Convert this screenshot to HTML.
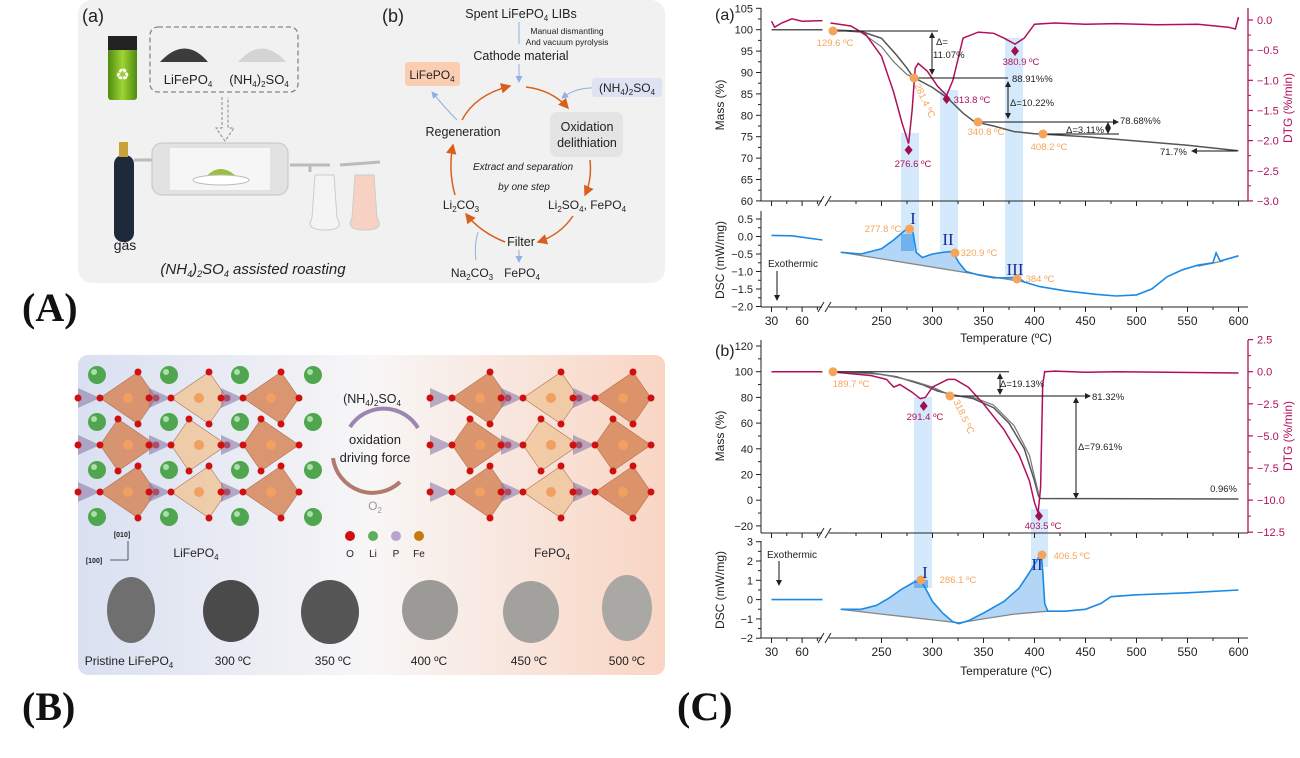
<!DOCTYPE html>
<html><head><meta charset="utf-8"><style>
html,body{margin:0;padding:0;background:#fff;}
svg{display:block;font-family:"Liberation Sans",sans-serif;}
.t{font-size:11px;fill:#222}
.s{font-size:9.5px}
</style></head><body>
<svg id="sv" width="1300" height="758" viewBox="0 0 1300 758" xmlns="http://www.w3.org/2000/svg">
<defs>
<linearGradient id="bg" x1="0" x2="1" y1="0" y2="0"><stop offset="0" stop-color="#d9e0f1"/><stop offset="0.5" stop-color="#f8f6f6"/><stop offset="1" stop-color="#f9d5c3"/></linearGradient>
<linearGradient id="bat" x1="0" x2="1"><stop offset="0" stop-color="#4f8a10"/><stop offset="0.5" stop-color="#9ed534"/><stop offset="1" stop-color="#4f8a10"/></linearGradient>
<marker id="ar" markerWidth="6" markerHeight="6" refX="5" refY="3" orient="auto"><path d="M0,0 L6,3 L0,6z" fill="#222"/></marker>
<marker id="ao" markerWidth="7" markerHeight="7" refX="6" refY="3.5" orient="auto"><path d="M0,0 L7,3.5 L0,7z" fill="#d9601c"/></marker>
<marker id="ab" markerWidth="7" markerHeight="7" refX="6" refY="3.5" orient="auto"><path d="M0,0 L7,3.5 L0,7z" fill="#8fb0e0"/></marker>
</defs>

<!-- Panel A -->
<rect x="78" y="0" width="587" height="283" rx="14" fill="#f1f1f1"/>
<text x="82" y="22" font-size="18" fill="#222">(a)</text>
<rect x="108" y="36" width="29" height="64" rx="3" fill="url(#bat)"/>
<rect x="108" y="36" width="29" height="14" fill="#222"/>
<text x="122.5" y="80" font-size="16" fill="#fff" text-anchor="middle">♻</text>
<rect x="150" y="27" width="148" height="65" rx="8" fill="none" stroke="#888" stroke-dasharray="5,3" stroke-width="1.3"/>
<path d="M160,62 Q185,35 208,62 Z" fill="#3c3c3c"/>
<path d="M238,62 Q262,35 286,62 Z" fill="#d4d4d4"/>
<text x="188" y="84" font-size="13" fill="#222" text-anchor="middle">LiFePO<tspan font-size="8" dy="3">4</tspan></text>
<text x="259" y="84" font-size="13" fill="#222" text-anchor="middle">(NH<tspan font-size="8" dy="3">4</tspan><tspan dy="-3">)</tspan><tspan font-size="8" dy="3">2</tspan><tspan dy="-3">SO</tspan><tspan font-size="8" dy="3">4</tspan></text>
<path d="M222,97 L222,128 L216,128 L225,141 L234,128 L228,128 L228,97" fill="none" stroke="#888" stroke-dasharray="3,2"/>
<rect x="114" y="155" width="20" height="87" rx="9" fill="#1e2a3c"/>
<rect x="119" y="142" width="9" height="15" fill="#c9a13a"/>
<text x="125" y="250" font-size="14" fill="#222" text-anchor="middle">gas</text>
<path d="M134,160 L152,160 M290,165 L330,165 M310,165 L310,172 M340,165 L380,162" stroke="#bbb" stroke-width="3" fill="none"/>
<rect x="152" y="143" width="136" height="52" rx="10" fill="#e2e2e2" stroke="#c4c4c4"/>
<rect x="170" y="148" width="100" height="42" fill="#f6f6f6"/>
<path d="M205,178 Q220,160 238,178 Z" fill="#99bf3c"/>
<ellipse cx="221" cy="180" rx="28" ry="5" fill="#fff" stroke="#bbb"/>
<path d="M315,175 L312,218 Q305,230 325,230 Q345,230 337,218 L334,175 Z" fill="#f4f4f4" stroke="#ccc"/>
<path d="M355,175 L352,218 Q345,230 365,230 Q385,230 377,218 L374,175 Z" fill="#f7d2c2" stroke="#ccc"/>
<text x="253" y="274" font-size="15" font-style="italic" fill="#222" text-anchor="middle">(NH<tspan font-size="9" dy="3">4</tspan><tspan dy="-3">)</tspan><tspan font-size="9" dy="3">2</tspan><tspan dy="-3">SO</tspan><tspan font-size="9" dy="3">4</tspan><tspan dy="-3"> assisted roasting</tspan></text>

<text x="382" y="22" font-size="18" fill="#222">(b)</text>
<text x="521" y="18" font-size="12.5" fill="#222" text-anchor="middle">Spent LiFePO<tspan font-size="8" dy="3">4</tspan><tspan dy="-3"> LIBs</tspan></text>
<text x="567" y="34" font-size="8.5" fill="#222" text-anchor="middle">Manual dismantling</text>
<text x="567" y="45" font-size="8.5" fill="#222" text-anchor="middle">And vacuum pyrolysis</text>
<text x="521" y="60" font-size="12.5" fill="#222" text-anchor="middle">Cathode material</text>
<path d="M519,22 L519,44 M519,64 L519,82" stroke="#8fb0e0" marker-end="url(#ab)"/>
<rect x="405" y="62" width="55" height="24" rx="3" fill="#fbcdb3"/>
<text x="432" y="79" font-size="12" fill="#222" text-anchor="middle">LiFePO<tspan font-size="8" dy="3">4</tspan></text>
<rect x="592" y="78" width="70" height="19" rx="3" fill="#dde3f3"/>
<text x="627" y="92" font-size="12" fill="#222" text-anchor="middle">(NH<tspan font-size="8" dy="3">4</tspan><tspan dy="-3">)</tspan><tspan font-size="8" dy="3">2</tspan><tspan dy="-3">SO</tspan><tspan font-size="8" dy="3">4</tspan></text>
<path d="M592,88 Q575,88 562,98" stroke="#8fb0e0" fill="none" marker-end="url(#ab)"/>
<rect x="550" y="112" width="73" height="45" rx="7" fill="#e4e4e4"/>
<text x="587" y="131" font-size="12.5" fill="#222" text-anchor="middle">Oxidation</text>
<text x="587" y="147" font-size="12.5" fill="#222" text-anchor="middle">delithiation</text>
<text x="463" y="136" font-size="12.5" fill="#222" text-anchor="middle">Regeneration</text>
<path d="M457,120 Q445,108 432,92" stroke="#8fb0e0" fill="none" marker-end="url(#ab)"/>
<text x="523" y="170" font-size="10" font-style="italic" fill="#222" text-anchor="middle">Extract and separation</text>
<text x="524" y="190" font-size="10" font-style="italic" fill="#222" text-anchor="middle">by one step</text>
<text x="461" y="209" font-size="12" fill="#222" text-anchor="middle">Li<tspan font-size="8" dy="3">2</tspan><tspan dy="-3">CO</tspan><tspan font-size="8" dy="3">3</tspan></text>
<text x="587" y="209" font-size="12" fill="#222" text-anchor="middle">Li<tspan font-size="8" dy="3">2</tspan><tspan dy="-3">SO</tspan><tspan font-size="8" dy="3">4</tspan><tspan dy="-3">, FePO</tspan><tspan font-size="8" dy="3">4</tspan></text>
<text x="521" y="246" font-size="12.5" fill="#222" text-anchor="middle">Filter</text>
<text x="472" y="277" font-size="12" fill="#222" text-anchor="middle">Na<tspan font-size="8" dy="3">2</tspan><tspan dy="-3">CO</tspan><tspan font-size="8" dy="3">3</tspan></text>
<text x="522" y="277" font-size="12" fill="#222" text-anchor="middle">FePO<tspan font-size="8" dy="3">4</tspan></text>
<path d="M476,260 Q474,245 478,232 M519,250 L519,262" stroke="#8fb0e0" fill="none" marker-end="url(#ab)"/>
<g stroke="#d9601c" stroke-width="1.5" fill="none">
<path d="M462,120 Q475,95 510,86" marker-end="url(#ao)"/>
<path d="M526,87 Q552,90 568,108" marker-end="url(#ao)"/>
<path d="M590,160 Q592,180 585,195" marker-end="url(#ao)"/>
<path d="M573,216 Q560,235 538,242" marker-end="url(#ao)"/>
<path d="M505,242 Q480,232 466,214" marker-end="url(#ao)"/>
<path d="M455,195 Q448,170 453,145" marker-end="url(#ao)"/>
</g>
<text x="22" y="321" font-family="Liberation Serif,serif" font-weight="bold" font-size="40" fill="#111">(A)</text>

<!-- Panel B -->
<rect x="78" y="355" width="587" height="320" rx="10" fill="url(#bg)"/>
<g id="latt"></g>
<text x="372" y="403" font-size="12.5" fill="#222" text-anchor="middle">(NH<tspan font-size="8" dy="3">4</tspan><tspan dy="-3">)</tspan><tspan font-size="8" dy="3">2</tspan><tspan dy="-3">SO</tspan><tspan font-size="8" dy="3">4</tspan></text>
<path d="M350,427 A40,40 0 0 1 418,428" stroke="#9b86b0" stroke-width="4" fill="none"/>
<path d="M400,482 A40,40 0 0 1 333,458" stroke="#b07a6c" stroke-width="4" fill="none"/>
<text x="375" y="444" font-size="13" fill="#222" text-anchor="middle">oxidation</text>
<text x="375" y="462" font-size="13" fill="#222" text-anchor="middle">driving force</text>
<text x="375" y="510" font-size="12" fill="#999" text-anchor="middle">O<tspan font-size="8" dy="3">2</tspan></text>
<circle cx="350" cy="536" r="5" fill="#d01010"/><circle cx="373" cy="536" r="5" fill="#5cae5c"/><circle cx="396" cy="536" r="5" fill="#b8a4cc"/><circle cx="419" cy="536" r="5" fill="#c87a10"/>
<text x="350" y="557" font-size="10" fill="#222" text-anchor="middle">O</text><text x="373" y="557" font-size="10" fill="#222" text-anchor="middle">Li</text><text x="396" y="557" font-size="10" fill="#222" text-anchor="middle">P</text><text x="419" y="557" font-size="10" fill="#222" text-anchor="middle">Fe</text>
<text x="196" y="557" font-size="12" fill="#222" text-anchor="middle">LiFePO<tspan font-size="8" dy="3">4</tspan></text>
<text x="552" y="557" font-size="12" fill="#222" text-anchor="middle">FePO<tspan font-size="8" dy="3">4</tspan></text>
<text x="122" y="537" font-size="7" font-weight="bold" fill="#222" text-anchor="middle">[010]</text>
<text x="94" y="563" font-size="7" font-weight="bold" fill="#222" text-anchor="middle">[100]</text>
<path d="M128,560 L128,541 M128,560 L110,560" stroke="#333" fill="none" stroke-width="0.8"/>
<g>
<ellipse cx="131" cy="610" rx="24" ry="33" fill="#6f6f6f"/>
<ellipse cx="231" cy="611" rx="28" ry="31" fill="#4a4a4a"/>
<ellipse cx="330" cy="612" rx="29" ry="32" fill="#565656"/>
<ellipse cx="430" cy="610" rx="28" ry="30" fill="#9c9a97"/>
<ellipse cx="531" cy="612" rx="28" ry="31" fill="#a3a19e"/>
<ellipse cx="627" cy="608" rx="25" ry="33" fill="#aaa8a5"/>
</g>
<g font-size="12" fill="#222" text-anchor="middle">
<text x="129" y="665">Pristine LiFePO<tspan font-size="8" dy="3">4</tspan></text>
<text x="233" y="665">300 ºC</text><text x="333" y="665">350 ºC</text><text x="429" y="665">400 ºC</text><text x="529" y="665">450 ºC</text><text x="627" y="665">500 ºC</text>
</g>
<text x="22" y="720" font-family="Liberation Serif,serif" font-weight="bold" font-size="40" fill="#111">(B)</text>
<text x="677" y="720" font-family="Liberation Serif,serif" font-weight="bold" font-size="40" fill="#111">(C)</text>

<!-- Charts -->
<g id="ch"></g>
<g class="t">
<text x="715" y="20" font-size="16">(a)</text>
<text x="715" y="356" font-size="16">(b)</text>
<text transform="translate(724,105) rotate(-90)" text-anchor="middle" font-size="12">Mass (%)</text>
<text transform="translate(1292,108) rotate(-90)" text-anchor="middle" font-size="12" fill="#b0105a">DTG (%/min)</text>
<text transform="translate(724,260) rotate(-90)" text-anchor="middle" font-size="12">DSC (mW/mg)</text>
<text x="1006" y="342" text-anchor="middle" font-size="12">Temperature (ºC)</text>
<text transform="translate(724,436) rotate(-90)" text-anchor="middle" font-size="12">Mass (%)</text>
<text transform="translate(1292,436) rotate(-90)" text-anchor="middle" font-size="12" fill="#b0105a">DTG (%/min)</text>
<text transform="translate(724,590) rotate(-90)" text-anchor="middle" font-size="12">DSC (mW/mg)</text>
<text x="1006" y="675" text-anchor="middle" font-size="12">Temperature (ºC)</text>
</g>
<g class="s" fill="#222">
<text x="936" y="45">Δ=</text><text x="933" y="58">11.07%</text>
<text x="1012" y="82">88.91%%</text>
<text x="1010" y="106">Δ=10.22%</text>
<text x="1120" y="124">78.68%%</text>
<text x="1066" y="133">Δ=3.11%</text>
<text x="1160" y="155">71.7%</text>
<text x="768" y="267" font-size="10">Exothermic</text>
<text x="1000" y="387">Δ=19.13%</text>
<text x="1092" y="400">81.32%</text>
<text x="1078" y="450">Δ=79.61%</text>
<text x="1237" y="492" text-anchor="end">0.96%</text>
<text x="767" y="558" font-size="10">Exothermic</text>
</g>
<g class="s" fill="#b0105a" text-anchor="middle">
<text x="913" y="167">276.6 ºC</text><text x="972" y="103">313.8 ºC</text><text x="1021" y="65">380.9 ºC</text>
<text x="925" y="420">291.4 ºC</text><text x="1043" y="529">403.5 ºC</text>
</g>
<g class="s" fill="#f5a55a" text-anchor="middle">
<text x="835" y="46">129.6 ºC</text>
<text transform="translate(922,102) rotate(65)">281.4 ºC</text>
<text x="986" y="135">340.8 ºC</text><text x="1049" y="150">408.2 ºC</text>
<text x="883" y="232">277.8 ºC</text><text x="979" y="256">320.9 ºC</text><text x="1040" y="282">384 ºC</text>
<text x="851" y="387">189.7 ºC</text>
<text transform="translate(961,418) rotate(65)">318.5 ºC</text>
<text x="958" y="583">286.1 ºC</text><text x="1072" y="559">406.5 ºC</text>
</g>
<g font-family="Liberation Serif,serif" font-size="17" fill="#1a2a9c" text-anchor="middle">
<text x="913" y="224">I</text><text x="948" y="245">II</text><text x="1015" y="275">III</text>
<text x="925" y="578">I</text><text x="1037" y="570">II</text>
</g>
<g id="lab" font-size="11" fill="#222"></g>
</svg>
<script>
var NS="http://www.w3.org/2000/svg";
function el(p,tag,a){var e=document.createElementNS(NS,tag);for(var k in a)e.setAttribute(k,a[k]);p.appendChild(e);return e;}
var ch=document.getElementById("ch"),lab=document.getElementById("lab"),lt=document.getElementById("latt");
function X(T){return T<150?771.5+(T-30)*1.02:881.5+(T-250)*1.02;}
function pth(pts,fx,fy){return pts.map(function(p,i){return (i?"L":"M")+fx(p[0]).toFixed(1)+","+fy(p[1]).toFixed(1);}).join(" ");}
var RED="#b0105a",BL="#1a8ae6",GR="#555";
// lattice
function lattice(x0,x1,withLi){
 var cols=[x0+40,x0+111,x0+183],rows=[398,445,492];
 cols.forEach(function(cx,ci){rows.forEach(function(cy,ri){
  var dx=(ri%2)?-10:10;
  el(lt,"path",{d:"M"+(cx+dx)+","+(cy-26)+" L"+(cx+28)+","+cy+" L"+(cx+dx)+","+(cy+26)+" L"+(cx-28)+","+cy+"Z",fill:(ci==1?"#f0c89e":"#d7875a"),opacity:0.85,stroke:"#a05a3a","stroke-width":0.6});
  el(lt,"path",{d:"M"+(cx-28)+","+cy+" L"+(cx-50)+","+(cy-10)+" L"+(cx-50)+","+(cy+10)+"Z",fill:"#8c7ca8",opacity:0.6});
  el(lt,"circle",{cx:cx,cy:cy,r:5,fill:"#f0a060"});
  [[cx+dx,cy-26],[cx+28,cy],[cx+dx,cy+26],[cx-28,cy],[cx-50,cy]].forEach(function(o){el(lt,"circle",{cx:o[0],cy:o[1],r:3.5,fill:"#d01010"});});
 });});
 if(withLi){[97,169,240,313].forEach(function(x){[375,422,470,517].forEach(function(y){el(lt,"circle",{cx:x,cy:y,r:9,fill:"#4fa64f"});el(lt,"circle",{cx:x-3,cy:y-3,r:3,fill:"#a8e0a8"});});});}
}
lattice(88,322,true);lattice(440,660,false);

function axes(o){
 // o: top,bot (upper panel), dtop,dbot (dsc), mass ticks, dtg ticks, dsc ticks
 var L=761,R=1248;
 el(ch,"line",{x1:L,y1:o.top,x2:L,y2:o.bot,stroke:"#222"});
 el(ch,"line",{x1:R,y1:o.top,x2:R,y2:o.bot,stroke:RED,"stroke-width":1.3});
 el(ch,"line",{x1:L,y1:o.dtop,x2:L,y2:o.dbot,stroke:"#222"});
 [o.bot,o.dbot].forEach(function(y){
  el(ch,"line",{x1:L,y1:y,x2:822,y2:y,stroke:"#222"});
  el(ch,"line",{x1:829,y1:y,x2:R,y2:y,stroke:"#222"});
  el(ch,"path",{d:"M818,"+(y+5)+" L824,"+(y-5)+" M825,"+(y+5)+" L831,"+(y-5),stroke:"#222",fill:"none"});
  [30,45,60,75].forEach(function(T){el(ch,"line",{x1:X(T),y1:y,x2:X(T),y2:y+(T%30?3:5),stroke:"#222"});});
  for(var T=225;T<=600;T+=25)el(ch,"line",{x1:X(T),y1:y,x2:X(T),y2:y+(T%50?3:5),stroke:"#222"});
 });
 [30,60,250,300,350,400,450,500,550,600].forEach(function(T){var t=el(lab,"text",{x:X(T),y:o.dbot+18,"text-anchor":"middle","font-size":12});t.textContent=T;});
 o.mt.forEach(function(m,i){el(ch,"line",{x1:L-5,y1:m[1],x2:L,y2:m[1],stroke:"#222"});var t=el(lab,"text",{x:L-8,y:m[1]+4,"text-anchor":"end"});t.textContent=m[0];
  if(i<o.mt.length-1)el(ch,"line",{x1:L-3,y1:(m[1]+o.mt[i+1][1])/2,x2:L,y2:(m[1]+o.mt[i+1][1])/2,stroke:"#222"});});
 o.dt.forEach(function(m,i){el(ch,"line",{x1:R,y1:m[1],x2:R+5,y2:m[1],stroke:RED,"stroke-width":1.2});var t=el(lab,"text",{x:R+9,y:m[1]+4,fill:RED});t.textContent=m[0];
  if(i<o.dt.length-1)el(ch,"line",{x1:R,y1:(m[1]+o.dt[i+1][1])/2,x2:R+3,y2:(m[1]+o.dt[i+1][1])/2,stroke:RED});});
 o.st.forEach(function(m,i){el(ch,"line",{x1:L-5,y1:m[1],x2:L,y2:m[1],stroke:"#222"});var t=el(lab,"text",{x:L-8,y:m[1]+4,"text-anchor":"end"});t.textContent=m[0];
  if(i<o.st.length-1)el(ch,"line",{x1:L-3,y1:(m[1]+o.st[i+1][1])/2,x2:L,y2:(m[1]+o.st[i+1][1])/2,stroke:"#222"});});
}
// ---- chart a
var Ma=function(m){return 8.3+(105-m)*4.28},Da=function(v){return 20-v*60.3},Sa=function(d){return 219+(0.5-d)*35};
var mt=[],dt=[],st=[];
for(var m=105;m>=60;m-=5)mt.push([m,Ma(m)]);
for(var v=0;v>=-3;v-=0.5)dt.push([(v==0?"0.0":v.toFixed(1).replace("-","−")),Da(v)]);
for(var d=0.5;d>=-2;d-=0.5)st.push([(d==0?"0.0":d.toFixed(1).replace("-","−")),Sa(d)]);
// bands
[[901,919,133,251],[940,958,90,251],[1005,1023,38,277]].forEach(function(b){el(ch,"rect",{x:b[0],y:b[2],width:b[1]-b[0],height:b[3]-b[2],fill:"#d4e9fc"});});
axes({top:8,bot:201,dtop:211,dbot:307,mt:mt,dt:dt,st:st});
// DSC a
var dsa=[[210,-0.45],[230,-0.5],[250,-0.35],[262,-0.1],[272,0.15],[277.6,0.28],[281,0.1],[284,-0.45],[290,-0.6],[300,-0.5],[310,-0.45],[318,-0.43],[321,-0.5],[326,-0.75],[333,-1.0],[345,-1.1],[360,-1.18],[375,-1.18],[384,-1.17],[390,-1.3],[405,-1.43],[430,-1.55],[460,-1.65],[480,-1.7],[500,-1.67],[515,-1.5],[530,-1.15],[545,-0.95],[560,-0.82],[575,-0.75],[578,-0.47],[582,-0.7],[600,-0.55]];
var fillA=dsa.filter(function(p){return p[0]<=390;});
el(ch,"path",{d:pth(fillA,X,Sa)+" L"+X(210)+","+Sa(-0.45)+"Z",fill:"#b3d6f6"});
el(ch,"path",{d:"M"+X(210)+","+Sa(-0.45)+" L"+X(390)+","+Sa(-1.3)+" M"+X(560)+","+Sa(-0.85)+" L"+X(585)+","+Sa(-0.7),stroke:"#888","stroke-width":1.3});
el(ch,"rect",{x:901,y:234,width:13,height:17,fill:"#6fb2f0"});
el(ch,"path",{d:pth(dsa,X,Sa),stroke:BL,fill:"none","stroke-width":1.6});
el(ch,"path",{d:pth([[30,0.03],[50,0.02],[80,-0.1]],X,Sa),stroke:BL,fill:"none","stroke-width":1.6});
// mass a
var ma=[[200,100],[230,99.6],[250,98],[265,94],[275,91],[281,88.9],[300,86.5],[315,84],[330,80.5],[341,78.5],[360,77.5],[380,76.2],[400,75.7],[408,75.6],[450,75],[500,74],[550,73],[600,71.7]];
el(ch,"path",{d:pth([[30,100],[80,100]],X,Ma)+" "+pth(ma,X,Ma),stroke:GR,fill:"none","stroke-width":1.5});
el(ch,"path",{d:pth([[200,100],[230,99.4],[250,96],[262,92.5],[275,89.5],[281,88.9]],X,Ma),stroke:"#777",fill:"none","stroke-width":1.2});
// dtg a
var da=[[200,-0.05],[220,-0.1],[235,-0.25],[250,-0.6],[262,-1.2],[270,-1.7],[276.6,-2.05],[280,-1.5],[283,-0.8],[286,-0.72],[295,-0.85],[305,-1.1],[313.8,-1.25],[320,-1.0],[330,-0.3],[345,-0.2],[360,-0.22],[370,-0.3],[380.9,-0.4],[390,-0.3],[400,-0.07],[420,-0.05],[450,-0.07],[480,-0.06],[520,-0.08],[560,-0.07],[590,-0.12],[597,-0.15],[600,0.05]];
el(ch,"path",{d:pth([[30,-0.02],[33,-0.12],[40,-0.05],[50,0.02],[60,-0.02],[80,-0.01]],X,Da)+" "+pth(da,X,Da),stroke:RED,fill:"none","stroke-width":1.5});
// annotations a
function line(x1,y1,x2,y2,arr,col){var a={x1:x1,y1:y1,x2:x2,y2:y2,stroke:col||"#111","stroke-width":1};if(arr)a["marker-end"]="url(#ar)";el(ch,"line",a);}
function darr(x,y1,y2){line(x,(y1+y2)/2,x,y1,1);line(x,(y1+y2)/2,x,y2,1);}
line(833,31,938,31);darr(932,33,74);
line(914,78,1008,78);darr(1008,82,118);
line(978,122,1118,122,1);line(1043,134,1119,134);darr(1108,123,133);
line(1237,151,1192,151,1);
line(777,271,777,300,1);
function dia(x,y){el(ch,"path",{d:"M"+x+","+(y-5)+" L"+(x+4)+","+y+" L"+x+","+(y+5)+" L"+(x-4)+","+y+"Z",fill:"#a0104f"});}
function dot(x,y){el(ch,"circle",{cx:x,cy:y,r:4.5,fill:"#f5a55a"});}
dia(908.6,150);dia(946.6,99);dia(1015,51);
dot(833,31);dot(914,78);dot(978,122);dot(1043,134);dot(909.6,229);dot(955,253);dot(1017,279);
// ---- chart b
var Mb=function(m){return 371.7+(100-m)*1.285},Db=function(v){return 371.7-v*12.84},Sb=function(d){return 541.7+(3-d)*19.3};
mt=[];dt=[];st=[];
for(var m=120;m>=-20;m-=20)mt.push([String(m).replace("-","−"),Mb(m)]);
for(var v=2.5;v>=-12.5;v-=2.5)dt.push([(v==0?"0.0":v.toFixed(1).replace("-","−")),Db(v)]);
for(var d=3;d>=-2;d-=1)st.push([String(d).replace("-","−"),Sb(d)]);
[[914,932,397,588],[1031,1048,509,567]].forEach(function(b){el(ch,"rect",{x:b[0],y:b[2],width:b[1]-b[0],height:b[3]-b[2],fill:"#d4e9fc"});});
axes({top:340,bot:533,dtop:541,dbot:638,mt:mt,dt:dt,st:st});
var dsb=[[210,-0.5],[230,-0.5],[245,-0.3],[258,0.1],[270,0.55],[282,0.9],[288,0.95],[292,0.7],[300,-0.1],[310,-0.7],[320,-1.15],[326,-1.25],[335,-1.1],[350,-0.7],[370,-0.1],[385,0.6],[395,1.4],[402,2.0],[406.5,2.4],[408,1.5],[410,-0.2],[413,-0.6],[430,-0.6],[450,-0.5],[465,-0.2],[475,0.15],[500,0.25],[550,0.35],[600,0.5]];
var blb=[[413,-0.6],[380,-0.75],[350,-1.0],[326,-1.2],[300,-1.05],[250,-0.75],[210,-0.5]];
el(ch,"path",{d:pth(dsb.filter(function(p){return p[0]<=413;}).concat(blb),X,Sb)+"Z",fill:"#b3d6f6"});
el(ch,"path",{d:pth(blb,X,Sb),stroke:"#888",fill:"none","stroke-width":1.3});
el(ch,"rect",{x:914,y:580,width:14,height:8,fill:"#6fb2f0"});
el(ch,"path",{d:pth(dsb,X,Sb),stroke:BL,fill:"none","stroke-width":1.6});
el(ch,"path",{d:pth([[30,0],[80,0]],X,Sb),stroke:BL,fill:"none","stroke-width":1.6});
var mb=[[200,100],[240,99],[265,96],[290,90],[305,85],[320,82],[340,79],[360,72],[375,60],[390,40],[400,15],[404,3],[406,1.3],[600,0.96]];
el(ch,"path",{d:pth([[30,100],[80,100]],X,Mb)+" "+pth(mb,X,Mb),stroke:GR,fill:"none","stroke-width":1.5});
el(ch,"path",{d:pth([[200,100],[250,98],[280,93],[300,88],[318.5,81.3],[340,80],[360,74],[380,58],[395,35],[404,5]],X,Mb),stroke:"#777",fill:"none","stroke-width":1.2});
var db=[[200,0],[240,-0.3],[255,-0.6],[262,-1.2],[268,-1.0],[280,-1.6],[288,-2.1],[293,-2.0],[300,-1.2],[315,-0.6],[322,-0.6],[335,-1.2],[350,-2.5],[370,-4.5],[385,-6.5],[395,-8.5],[400,-10.2],[403.5,-11],[406,-9],[408,-1],[410,0],[420,0.05],[450,-0.05],[480,0],[600,-0.1]];
el(ch,"path",{d:pth([[30,0],[80,0]],X,Db)+" "+pth(db,X,Db),stroke:RED,fill:"none","stroke-width":1.5});
line(833,371.7,1009,371.7);darr(1000,374,394);
line(950,396,1090,396,1);darr(1076,398,498);
line(779,561,779,585,1);
dia(923.7,406);dia(1039,516);
dot(833,371.7);dot(950,396);dot(921,580);dot(1042,555);
</script>
</body></html>
